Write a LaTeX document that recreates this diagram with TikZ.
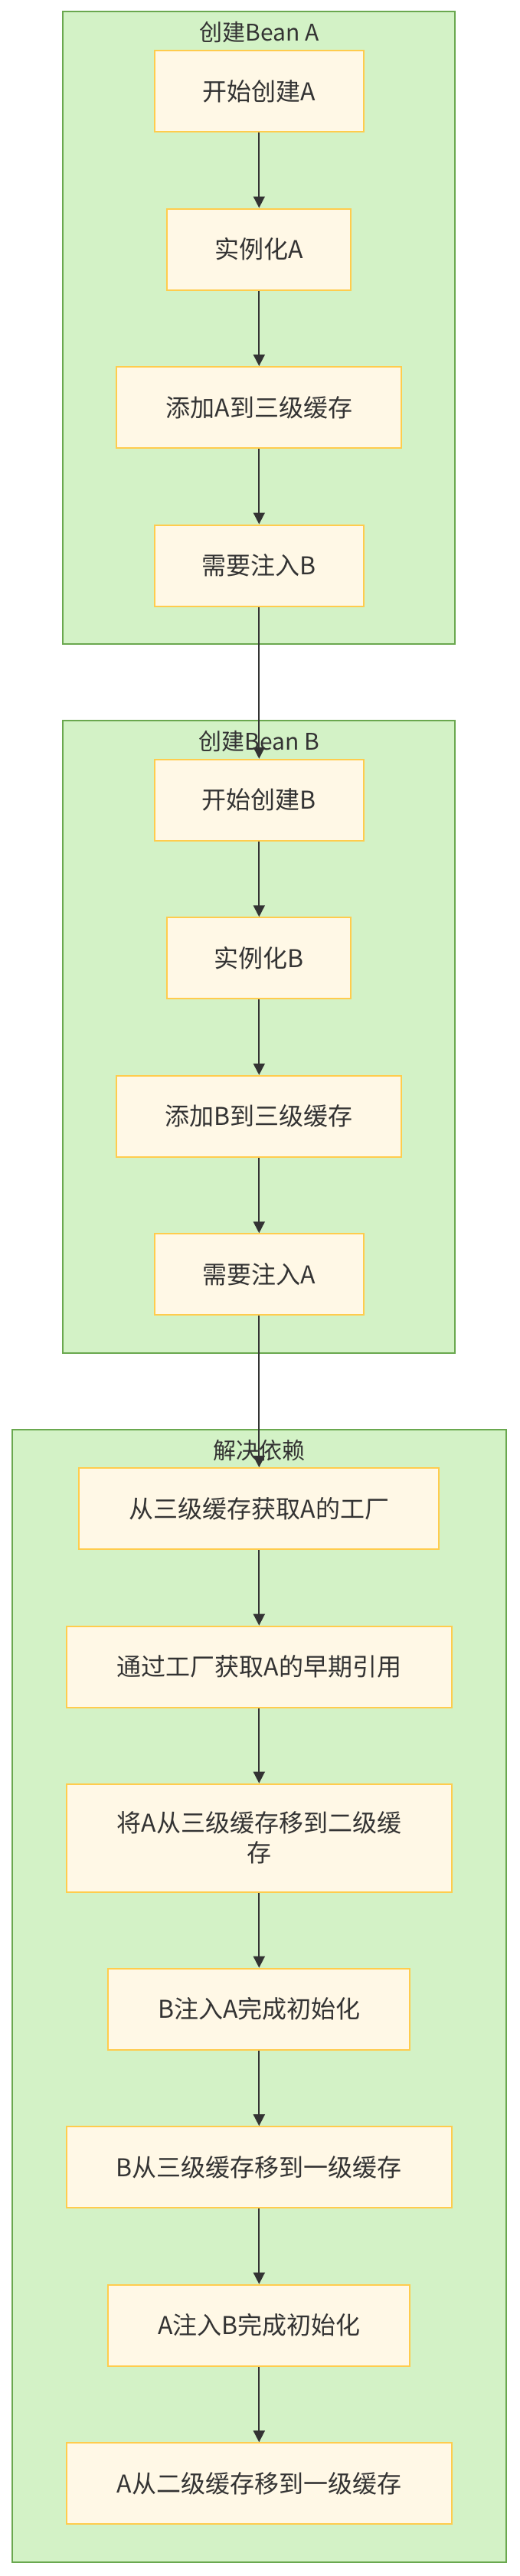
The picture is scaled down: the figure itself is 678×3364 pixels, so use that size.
\documentclass[tikz,border=0pt]{standalone}
\usepackage{fontspec}
\newfontfamily\cjk{Noto Sans CJK SC}
\usetikzlibrary{arrows.meta}
\definecolor{clfill}{HTML}{D3F2C6}
\definecolor{cldraw}{HTML}{6AA84F}
\definecolor{ndfill}{HTML}{FFF8E6}
\definecolor{nddraw}{HTML}{FFCC4D}
\definecolor{txt}{HTML}{333333}
\tikzset{
  cluster/.style={draw=cldraw, fill=clfill, line width=2pt, inner sep=0pt, outer sep=0pt},
  cltitle/.style={text=txt, font=\cjk\fontsize{30}{36}\selectfont, inner sep=0pt},
  stepbox/.style={draw=nddraw, fill=ndfill, line width=2pt, inner sep=0pt,
    minimum height=106pt, text=txt, align=center,
    font=\cjk\fontsize{32}{39}\selectfont},
  flow/.style={draw=txt, line width=1.8pt, -{Triangle[length=15pt,width=15pt]}}
}
\begin{document}
\begin{tikzpicture}[x=1pt,y=-1pt]
\useasboundingbox (0,0) rectangle (678,3364);
% clusters
\node[cluster, minimum width=512pt, minimum height=826pt] (cA) at (338.3,428.3) {};
\node[cluster, minimum width=512pt, minimum height=826pt] (cB) at (338.3,1354.2) {};
\node[cluster, minimum width=645.3pt, minimum height=1479.2pt] (cC) at (338.3,2606.6) {};
\node[cltitle] (tA) at (338.3,42) {创建Bean A};
\node[cltitle] (tB) at (338.3,968) {创建Bean B};
\node[cltitle] (tC) at (338.3,1894) {解决依赖};
% cluster A
\node[stepbox, minimum width=273.3pt] (a1) at (338.3,119) {开始创建A};
\node[stepbox, minimum width=240pt] (a2) at (338.3,325.5) {实例化A};
\node[stepbox, minimum width=372pt] (a3) at (338.3,532) {添加A到三级缓存};
\node[stepbox, minimum width=273.3pt] (a4) at (338.3,738.5) {需要注入B};
% cluster B
\node[stepbox, minimum width=273.3pt] (b1) at (338.3,1044.8) {开始创建B};
\node[stepbox, minimum width=240pt] (b2) at (338.3,1251.3) {实例化B};
\node[stepbox, minimum width=372pt] (b3) at (338.3,1457.8) {添加B到三级缓存};
\node[stepbox, minimum width=273.3pt] (b4) at (338.3,1664.3) {需要注入A};
% cluster C
\node[stepbox, minimum width=470pt] (c1) at (338.3,1970.2) {从三级缓存获取A的工厂};
\node[stepbox, minimum width=503.5pt] (c2) at (338.3,2176.7) {通过工厂获取A的早期引用};
\node[stepbox, minimum width=503.5pt, minimum height=141pt] (c3) at (338.3,2400.2) {将A从三级缓存移到二级缓\\存};
\node[stepbox, minimum width=394pt] (c4) at (338.3,2623.7) {B注入A完成初始化};
\node[stepbox, minimum width=503.5pt] (c5) at (338.3,2830.2) {B从三级缓存移到一级缓存};
\node[stepbox, minimum width=394pt] (c6) at (338.3,3036.7) {A注入B完成初始化};
\node[stepbox, minimum width=503.5pt] (c7) at (338.3,3243.2) {A从二级缓存移到一级缓存};
% connectors
\draw[flow] (a1) -- (a2);
\draw[flow] (a2) -- (a3);
\draw[flow] (a3) -- (a4);
\draw[flow] (a4) -- (b1);
\draw[flow] (b1) -- (b2);
\draw[flow] (b2) -- (b3);
\draw[flow] (b3) -- (b4);
\draw[flow] (b4) -- (c1);
\draw[flow] (c1) -- (c2);
\draw[flow] (c2) -- (c3);
\draw[flow] (c3) -- (c4);
\draw[flow] (c4) -- (c5);
\draw[flow] (c5) -- (c6);
\draw[flow] (c6) -- (c7);
\end{tikzpicture}
\end{document}
